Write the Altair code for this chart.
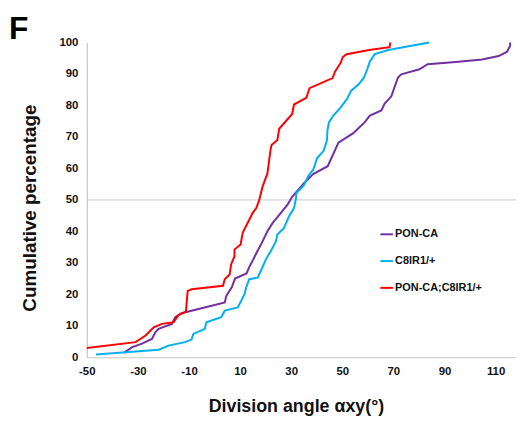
import altair as alt
import pandas as pd

series_names = ["PON-CA", "C8IR1/+", "PON-CA;C8IR1/+"]
series_colors = ["#7030A0", "#00B0F0", "#FF0000"]

pon_x = [-35.5, -32.2, -28.4, -24.5, -23.2, -21.9, -16.7, -15.4, -12.9, 4.0, 4.6, 6.8, 8.0, 12.5, 13.8,
         14.5, 16.2, 18.8, 20.7, 22.7, 25.9, 28.5, 30.4, 35.0, 38.6, 44.3, 48.5, 54.3, 58.8, 60.8, 65.3,
         66.6, 69.2, 71.8, 73.1, 80.2, 83.4, 94.4, 104.7, 111.2, 114.4, 115.7, 115.7]
pon_y = [1.4, 3.2, 4.3, 5.8, 7.9, 9.0, 10.6, 12.7, 14.0, 17.4, 19.5, 22.3, 25.0, 26.6, 29.0,
         30.0, 32.8, 36.8, 40.0, 42.6, 45.8, 48.4, 51.0, 55.3, 58.2, 60.7, 68.2, 71.2, 74.7, 76.8, 78.4,
         80.6, 82.9, 88.9, 89.9, 91.5, 93.1, 93.8, 94.6, 95.7, 97.0, 98.9, 100.0]

c8_x = [-46.4, -34.8, -21.9, -18.0, -11.6, -9.0, -8.3, -3.8, -3.2, 2.6, 4.0, 9.1, 10.4, 11.7, 12.5,
        13.6, 16.9, 18.1, 20.1, 22.0, 24.0, 24.6, 27.2, 29.1, 31.1, 31.9, 32.0, 35.0, 36.9, 38.6, 40.1,
        42.7, 44.0, 44.2, 44.8, 46.5, 49.4, 52.0, 53.5, 56.5, 58.5, 59.8, 60.8, 62.7, 68.0, 76.0, 84.0]
c8_y = [0.9, 1.6, 2.4, 3.7, 4.8, 5.6, 7.4, 9.0, 11.1, 12.7, 14.8, 15.8, 17.9, 20.0, 22.5,
        24.8, 25.3, 27.4, 31.1, 33.7, 36.8, 39.0, 41.1, 44.7, 47.4, 50.5, 52.1, 54.7, 57.9, 59.5, 63.2,
        65.6, 68.9, 72.1, 74.7, 76.8, 79.4, 82.3, 84.7, 86.8, 88.9, 91.5, 94.0, 96.3, 97.6, 98.8, 100.0]

dbl_x = [-50.0, -30.9, -27.0, -23.8, -20.6, -16.1, -14.1, -11.2, -10.9, -10.5, -9.0, 3.3, 4.0, 5.9, 6.5,
         7.8, 7.8, 10.2, 11.0, 13.3, 14.9, 16.4, 17.5, 18.8, 20.7, 21.9, 22.3, 24.6, 25.3, 30.4, 31.1,
         35.9, 37.2, 46.2, 47.2, 49.4, 50.2, 51.7, 60.5, 68.5, 68.8]
dbl_y = [2.9, 4.8, 6.9, 9.5, 10.6, 11.1, 13.4, 14.5, 17.4, 21.1, 21.6, 22.7, 24.8, 26.3, 29.5,
         32.1, 34.2, 35.8, 39.5, 43.2, 45.8, 47.5, 50.0, 54.2, 58.4, 65.8, 67.4, 69.0, 72.6, 77.3, 80.3,
         82.4, 85.5, 88.7, 90.8, 93.6, 95.4, 96.3, 97.6, 98.5, 100.0]

x_ticks = [-50, -30, -10, 10, 30, 50, 70, 90, 110]
y_ticks = [0, 10, 20, 30, 40, 50, 60, 70, 80, 90, 100]
ref_y = [50]

rows = []
for name, xs, ys in zip(series_names, [pon_x, c8_x, dbl_x], [pon_y, c8_y, dbl_y]):
    for i, (a, b) in enumerate(zip(xs, ys)):
        rows.append({"series": name, "angle": a, "pct": b, "idx": i})
df = pd.DataFrame(rows)

FONT = "Liberation Sans"
AX = "#c6c6c6"

xscale = alt.Scale(domain=[-50, 118], nice=False, zero=False)
yscale = alt.Scale(domain=[0, 100], nice=False)

y_axis = alt.Axis(values=y_ticks, title="Cumulative percentage", grid=False, ticks=False,
                  domainColor=AX, domainWidth=1.2, labelFont=FONT, labelFontWeight="bold",
                  labelFontSize=11.5, labelColor="#111", labelPadding=9,
                  labelExpr="datum.value + ''", labelOverlap=False,
                  titleFont=FONT, titleFontWeight="bold", titleFontSize=19, titleColor="#111",
                  titleAngle=270, titleX=-52, titleY=166.5, titleBaseline="alphabetic",
                  titleAlign="center", labelFlush=False)

lines = alt.Chart(df).mark_line(strokeWidth=2, interpolate="linear").encode(
    x=alt.X("angle:Q", scale=xscale,
            axis=alt.Axis(values=x_ticks, title="Division angle αxy(°)", grid=False, ticks=False,
                          domainColor=AX, domainWidth=1.2, labelFont=FONT, labelFontWeight="bold",
                          labelFontSize=11.5, labelColor="#111", labelPadding=8,
                          labelExpr="datum.value + ''", labelOverlap=False,
                          titleFont=FONT, titleFontWeight="bold", titleFontSize=18, titleColor="#111",
                          titleX=211, titleY=55, titleBaseline="alphabetic", labelFlush=False)),
    y=alt.Y("pct:Q", scale=yscale, axis=y_axis, title="Cumulative percentage"),
    color=alt.Color("series:N", scale=alt.Scale(domain=series_names, range=series_colors),
                    legend=alt.Legend(title=None, orient="none", legendX=295, legendY=186,
                                      symbolType="stroke", symbolSize=160, symbolStrokeWidth=2,
                                      labelFont=FONT, labelFontWeight="bold", labelFontSize=11,
                                      labelColor="#111", labelOffset=1, rowPadding=14)),
    order="idx:Q",
)

ref = alt.Chart(pd.DataFrame({"pct": ref_y})).mark_rule(color="#d4d4d4", strokeWidth=1.2).encode(
    y=alt.Y("pct:Q", scale=yscale, axis=y_axis, title="Cumulative percentage")
)

panel = alt.Chart(pd.DataFrame({"t": ["F"]})).mark_text(
    font=FONT, fontWeight="bold", fontSize=32, align="left", baseline="alphabetic", color="#000"
).encode(text="t:N", x=alt.value(-78.5), y=alt.value(-4))

chart = alt.layer(ref, lines, panel).properties(
    width=433, height=317.5,
    autosize=alt.AutoSizeParams(type="none"),
    padding={"left": 79.5, "top": 33, "right": 0, "bottom": 62},
).configure_view(stroke=None)

chart.save("out.html", embed_options={"renderer": "svg", "actions": False})
